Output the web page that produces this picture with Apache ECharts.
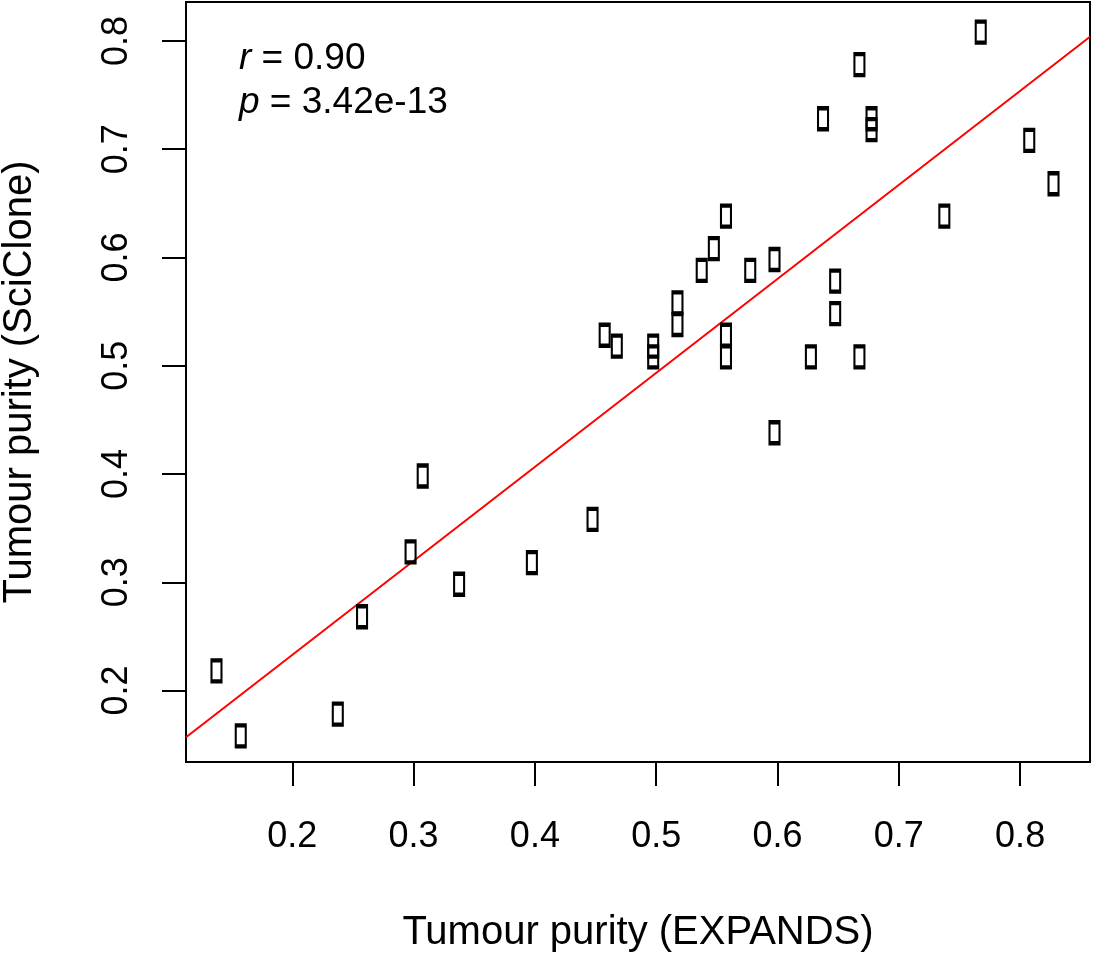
<!DOCTYPE html>
<html>
<head>
<meta charset="utf-8">
<script src="https://cdn.jsdelivr.net/npm/echarts@6/dist/echarts.min.js"></script>
<style>
  html, body { margin: 0; padding: 0; background: #fff; }
  #chart { width: 1093px; height: 954px; }
</style>
</head>
<body>
<div id="chart"></div>
<script>
// ---- data ----
const expandsPurity = [0.14, 0.16, 0.24, 0.26, 0.30, 0.31, 0.34, 0.40, 0.45, 0.46,
  0.47, 0.50, 0.50, 0.52, 0.52, 0.54, 0.55, 0.56, 0.56, 0.56,
  0.58, 0.60, 0.60, 0.63, 0.64, 0.65, 0.65, 0.67, 0.67, 0.68,
  0.68, 0.74, 0.77, 0.81, 0.83];
const sciclonePurity = [0.22, 0.16, 0.18, 0.27, 0.33, 0.40, 0.30, 0.32, 0.36, 0.53,
  0.52, 0.52, 0.51, 0.56, 0.54, 0.59, 0.61, 0.64, 0.53, 0.51,
  0.59, 0.60, 0.44, 0.51, 0.73, 0.58, 0.55, 0.78, 0.51, 0.73,
  0.72, 0.64, 0.81, 0.71, 0.67];
const xTicks = [0.2, 0.3, 0.4, 0.5, 0.6, 0.7, 0.8];
const yTicks = [0.2, 0.3, 0.4, 0.5, 0.6, 0.7, 0.8];
const fitIntercept = 0.0593;
const fitSlope = 0.8683;
const statR = '0.90';
const statP = '3.42e-13';
const xTitle = 'Tumour purity (EXPANDS)';
const yTitle = 'Tumour purity (SciClone)';

// R-style axis range: data range extended by 4% on each side
function rRange(arr) {
  const mn = Math.min(...arr), mx = Math.max(...arr), d = mx - mn;
  return [mn - 0.04 * d, mx + 0.04 * d];
}
const [xMin, xMax] = rRange(expandsPurity);
const [yMin, yMax] = rRange(sciclonePurity);

const points = expandsPurity.map((x, i) => [x, sciclonePurity[i]]);
const fitLine = [[xMin, fitIntercept + fitSlope * xMin], [xMax, fitIntercept + fitSlope * xMax]];

const FONT = 'Liberation Sans, Arial, Helvetica, sans-serif';
const chart = echarts.init(document.getElementById('chart'), null, { renderer: 'canvas' });

chart.setOption({
  backgroundColor: '#fff',
  animation: false,
  grid: {
    left: 186, top: 2, width: 904, height: 760,
    show: true, borderColor: '#000', borderWidth: 2, backgroundColor: 'transparent',
    containLabel: false, outerBoundsMode: 'none'
  },
  xAxis: {
    type: 'value', min: xMin, max: xMax,
    axisLine: { show: true, onZero: false, lineStyle: { color: '#000', width: 2 } },
    axisTick: { show: true, length: 24, customValues: xTicks, lineStyle: { color: '#000', width: 2 } },
    axisLabel: {
      customValues: xTicks, formatter: v => v.toFixed(1),
      fontSize: 36, color: '#000', fontFamily: FONT, margin: 57
    },
    splitLine: { show: false },
    name: xTitle, nameLocation: 'middle', nameGap: 151,
    nameTextStyle: { fontSize: 40, color: '#000', fontFamily: FONT }
  },
  yAxis: {
    type: 'value', min: yMin, max: yMax,
    axisLine: { show: true, onZero: false, lineStyle: { color: '#000', width: 2 } },
    axisTick: { show: true, length: 24, customValues: yTicks, lineStyle: { color: '#000', width: 2 } },
    axisLabel: {
      customValues: yTicks, formatter: v => v.toFixed(1), rotate: 90,
      fontSize: 36, color: '#000', fontFamily: FONT, margin: 51
    },
    splitLine: { show: false },
    name: yTitle, nameLocation: 'middle', nameGap: 146, nameRotate: 90,
    nameTextStyle: { fontSize: 40, color: '#000', fontFamily: FONT }
  },
  series: [
    {
      type: 'line', data: fitLine, symbol: 'none', clip: true,
      lineStyle: { color: '#ff0000', width: 2 }, z: 2, silent: true
    },
    {
      type: 'scatter', data: points, symbol: 'rect', symbolSize: [10, 21], symbolOffset: [-3, 2],
      itemStyle: { color: 'transparent', borderColor: '#000', borderWidth: 3, opacity: 1 }, z: 3, silent: true
    }
  ],
  graphic: [
    {
      type: 'text', left: 239, top: 40,
      style: {
        text: '{i|r} = ' + statR,
        font: '37px ' + FONT, fill: '#000',
        rich: { i: { fontStyle: 'italic', fontSize: 37, fontFamily: FONT } }
      }
    },
    {
      type: 'text', left: 239, top: 84,
      style: {
        text: '{i|p} = ' + statP,
        font: '37px ' + FONT, fill: '#000',
        rich: { i: { fontStyle: 'italic', fontSize: 37, fontFamily: FONT } }
      }
    }
  ]
});
</script>
</body>
</html>
